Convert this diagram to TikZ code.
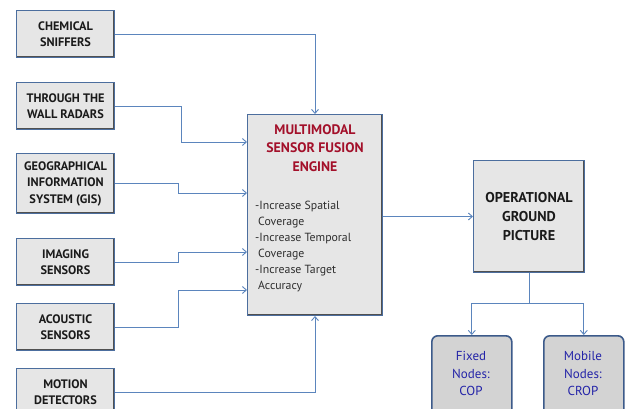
\documentclass[tikz,border=0pt]{standalone}
\usepackage{fontspec}
\setmainfont{PT Sans}
\usetikzlibrary{arrows.meta,calc}
\definecolor{lineblue}{HTML}{5B85BD}
\definecolor{boxborder}{HTML}{4C6E9E}
\definecolor{boxfill}{HTML}{E6E6E6}
\definecolor{shadowc}{HTML}{505050}
\definecolor{titlered}{HTML}{A3102A}
\definecolor{txtdark}{HTML}{1A1A1A}
\definecolor{bullettxt}{HTML}{2E2E2E}
\definecolor{nodefill}{HTML}{D3D3D3}
\definecolor{nodeborder}{HTML}{3C5A8A}
\definecolor{nodetext}{HTML}{2424A8}
\tikzset{
  sensor/.style={draw=boxborder, line width=1pt, fill=boxfill, anchor=north west,
    minimum width=98pt, minimum height=47pt, inner sep=0pt, align=center,
    font=\fontsize{12.3}{16.5}\selectfont\bfseries, text=txtdark,
    path picture={\draw[shadowc, line width=3pt] (path picture bounding box.north east) -- (path picture bounding box.south east) -- (path picture bounding box.south west);}},
  bigbox/.style={draw=boxborder, line width=1pt, fill=boxfill, anchor=north west, inner sep=0pt,
    path picture={\draw[shadowc, line width=3.5pt] (path picture bounding box.north east) -- (path picture bounding box.south east) -- (path picture bounding box.south west);}},
  outnode/.style={draw=nodeborder, line width=1.6pt, fill=nodefill, rounded corners=6pt,
    anchor=north west, minimum width=80pt, minimum height=80pt, inner sep=0pt},
  nodelbl/.style={text=nodetext, align=center, font=\fontsize{13}{17.5}\selectfont},
  arr/.style={draw=lineblue, line width=0.9pt, -{Straight Barb[length=4pt,width=7pt]}},
  plain/.style={draw=lineblue, line width=0.9pt}
}
\begin{document}
\begin{tikzpicture}[x=1pt,y=-1pt]
\useasboundingbox (0,0) rectangle (629,409);
\clip (0,0) rectangle (629,409);
\fill[white] (0,0) rectangle (629,409);

\node[sensor] (chem) at (16,10) {CHEMICAL\\SNIFFERS};
\node[sensor] (thru) at (16,82) {THROUGH THE\\WALL RADARS};
\node[sensor, minimum height=60pt] (gis) at (16,153) {GEOGRAPHICAL\\INFORMATION\\SYSTEM (GIS)};
\node[sensor] (img) at (16,238) {IMAGING\\SENSORS};
\node[sensor] (acou) at (16,303) {ACOUSTIC\\SENSORS};
\node[sensor] (motion) at (16,368) {MOTION\\DETECTORS};

\node[bigbox, minimum width=135pt, minimum height=201pt] (engine) at (247,114) {};
\node[text=titlered, align=center, font=\fontsize{13.8}{18.5}\selectfont\bfseries, anchor=north] (etitle) at (315,121) {MULTIMODAL\\SENSOR FUSION\\ENGINE};
\node[text=bullettxt, align=left, anchor=north west, inner sep=0pt, font=\fontsize{11.8}{16}\selectfont] (ebullets) at (255,201)
  {-Increase Spatial\\\hspace*{3pt}Coverage\\-Increase Temporal\\\hspace*{3pt}Coverage\\-Increase Target\\\hspace*{3pt}Accuracy};

\node[bigbox, minimum width=111pt, minimum height=112pt, align=center,
  font=\fontsize{14.2}{19}\selectfont\bfseries, text=txtdark] (ogp) at (473,160) {OPERATIONAL\\GROUND\\PICTURE};

\node[outnode] (fixed) at (431,335) {};
\node[nodelbl, anchor=north] (fixedlbl) at (471,348) {Fixed\\Nodes:\\COP};
\node[outnode] (mobile) at (543,335) {};
\node[nodelbl, anchor=north] (mobilelbl) at (583,348) {Mobile\\Nodes:\\CROP};

% connectors
\draw[arr] (chem.east) -| (engine.north);
\draw[arr] (thru.east) -| (181,142) -- (engine.west |- 0,142);
\draw[arr] (gis.east |- 0,183) -| (178,193) -- (engine.west |- 0,193);
\draw[arr] (img.east) -| (178,252) -- (engine.west |- 0,252);
\draw[arr] (acou.east) -| (178,290) -- (engine.west |- 0,290);
\draw[arr] (motion.east) -| (engine.south);
\draw[arr] (engine.east |- ogp.west) -- (ogp.west);
\draw[plain] (ogp.south) -- ++(0,30) coordinate (split);
\draw[arr] (split) -| (fixed.north);
\draw[arr] (split) -| (mobile.north);
\end{tikzpicture}
\end{document}
